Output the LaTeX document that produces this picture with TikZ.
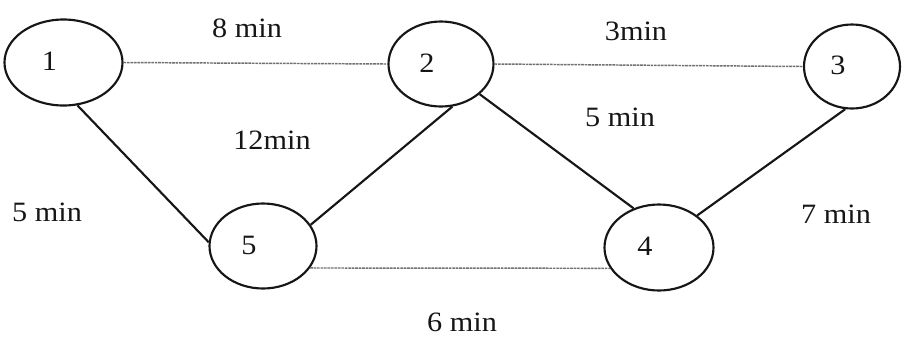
\documentclass[tikz,border=0pt]{standalone}
\usepackage{fontspec}
\setmainfont{Liberation Serif}
\usepackage{graphicx}
\usetikzlibrary{shapes.geometric}
\definecolor{Ink}{HTML}{161616}
\definecolor{Road}{HTML}{707070}
\newcommand{\wide}[1]{\scalebox{1.08}[1]{#1}}
\newcommand{\stopnode}[5]{%
  \node[ellipse,draw=Ink,line width=1.6pt,inner sep=0pt,minimum width=#4*0.75pt,minimum height=#5*0.75pt,
        text=Ink,font=\fontsize{21}{25}\selectfont] (#1) at (#2) {\raisebox{1.5pt}{\wide{#3}}\hspace*{1em}};}
\tikzset{tlabel/.style={text=Ink,inner sep=0pt,font=\fontsize{21}{25}\selectfont}}

\begin{document}
\begin{tikzpicture}[x=0.75pt,y=-0.75pt]
    \useasboundingbox[fill=white] (0,0) rectangle (904,337);
    \stopnode{n1}{63.5,62.5}{1}{118}{86}
    \stopnode{n2}{441,64}{2}{105}{85}
    \stopnode{n3}{852,66.5}{3}{96}{84}
    \stopnode{n4}{659,247.5}{4}{109}{86}
    \stopnode{n5}{263,246}{5}{107}{85}
    \foreach \a/\b in {n1.east/n2.west,n2.east/n3.west,n5.-25/n4.203}
      \draw[Road,line width=1.1pt,dash pattern=on 2pt off 0.6pt] (\a) -- (\b);
    \foreach \a/\b in {n1.-72/n5.176,n5.24/n2.-75,n2.-38/n4.123,n3.-99/n4.40}
      \draw[Ink,line width=1.6pt] (\a) -- (\b);
    % travel times
    \node[tlabel] (l12) at (247,28) {\wide{8 min}};
    \node[tlabel] (l23) at (636,31) {\wide{3min}};
    \node[tlabel] (l25) at (272,140) {\wide{12min}};
    \node[tlabel] (l24) at (620,117) {\wide{5 min}};
    \node[tlabel] (l15) at (47,212) {\wide{5 min}};
    \node[tlabel] (l34) at (836,214) {\wide{7 min}};
    \node[tlabel] (l54) at (462,322) {\wide{6 min}};
  \end{tikzpicture}
\end{document}
